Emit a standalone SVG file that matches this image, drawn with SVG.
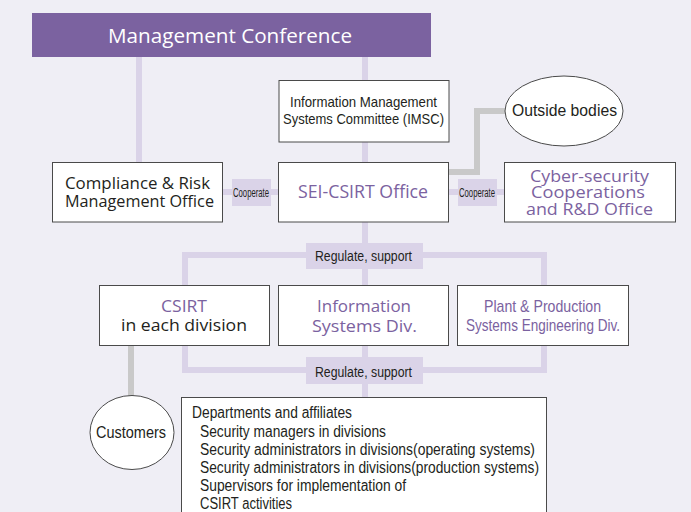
<svg xmlns="http://www.w3.org/2000/svg" width="691" height="512" viewBox="0 0 691 512">
<style>
.box{fill:#fff;stroke:#4a4a4a;stroke-width:1}
.ln{fill:none;stroke:#dad3e8;stroke-width:6}
.gl{fill:none;stroke:#c9c9c9;stroke-width:6}
.lab{fill:#dad3e8}
.t{font-family:"Open Sans","Noto Sans","Liberation Sans",sans-serif;fill:#231f20}
.c{font-family:"Liberation Sans","Noto Sans",sans-serif;fill:#231f20}
.p{fill:#7b62a0}
</style>
<rect width="691" height="512" fill="#efeef5"/>
<g id="connectors">
<path class="ln" d="M139,57V162"/>
<path class="ln" d="M365,57V80M365,142V162"/>
<path class="ln" d="M223,192H278M449,192H504"/>
<path class="gl" d="M449,172H477V111H505"/>
<path class="ln" d="M365,222V397"/>
<path class="ln" d="M185,285V255H544V285"/>
<path class="ln" d="M185,346V370H544V346"/>
<path class="gl" d="M131,346V396"/>
<rect class="lab" x="232" y="179" width="39" height="27"/>
<rect class="lab" x="458" y="179" width="39" height="27"/>
<rect class="lab" x="306" y="243" width="117" height="26"/>
<rect class="lab" x="306" y="357" width="117" height="27"/>
<text class="c" x="233" y="197" font-size="12" textLength="36" lengthAdjust="spacingAndGlyphs">Cooperate</text>
<text class="c" x="459" y="197" font-size="12" textLength="36" lengthAdjust="spacingAndGlyphs">Cooperate</text>
<text class="c" x="315" y="261" font-size="14" textLength="97" lengthAdjust="spacingAndGlyphs">Regulate, support</text>
<text class="c" x="315" y="377" font-size="14" textLength="97" lengthAdjust="spacingAndGlyphs">Regulate, support</text>
</g>
<g id="mgmt">
<rect x="32" y="13" width="399" height="44" fill="#7b62a0"/>
<text class="t" x="108" y="43" font-size="20" style="fill:#fff" textLength="244" lengthAdjust="spacingAndGlyphs">Management Conference</text>
</g>
<g id="imsc">
<rect class="box" x="279" y="80.5" width="170" height="61.5"/>
<text class="c" x="290" y="107" font-size="15" textLength="147" lengthAdjust="spacingAndGlyphs">Information Management</text>
<text class="c" x="283" y="124" font-size="15" textLength="161" lengthAdjust="spacingAndGlyphs">Systems Committee (IMSC)</text>
</g>
<g id="outside">
<ellipse cx="564" cy="111" rx="59" ry="35" fill="#fff" stroke="#4a4a4a"/>
<text class="c" x="512" y="116" font-size="17" textLength="105" lengthAdjust="spacingAndGlyphs">Outside bodies</text>
</g>
<g id="compliance">
<rect class="box" x="52.5" y="162.5" width="170" height="59.5"/>
<text class="t" x="65" y="189" font-size="16.5" textLength="145" lengthAdjust="spacingAndGlyphs">Compliance &amp; Risk</text>
<text class="t" x="65" y="207" font-size="16.5" textLength="149" lengthAdjust="spacingAndGlyphs">Management Office</text>
</g>
<g id="seicsirt">
<rect class="box" x="278.5" y="162.5" width="170" height="59.5"/>
<text class="t p" x="298" y="198" font-size="18" textLength="130" lengthAdjust="spacingAndGlyphs">SEI-CSIRT Office</text>
</g>
<g id="cyber">
<rect class="box" x="504.5" y="162.5" width="171" height="59.5"/>
<text class="t p" x="530" y="182" font-size="16.5" textLength="119" lengthAdjust="spacingAndGlyphs">Cyber-security</text>
<text class="t p" x="531" y="198" font-size="16.5" textLength="114" lengthAdjust="spacingAndGlyphs">Cooperations</text>
<text class="t p" x="526" y="215" font-size="16.5" textLength="127" lengthAdjust="spacingAndGlyphs">and R&amp;D Office</text>
</g>
<g id="csirt">
<rect class="box" x="99.5" y="285.5" width="170" height="60"/>
<text class="t p" x="161" y="312" font-size="17" textLength="46" lengthAdjust="spacingAndGlyphs">CSIRT</text>
<text class="t" x="121" y="331" font-size="17" textLength="126" lengthAdjust="spacingAndGlyphs">in each division</text>
</g>
<g id="infosys">
<rect class="box" x="278.5" y="285.5" width="170" height="60"/>
<text class="t p" x="317" y="312" font-size="17" textLength="94" lengthAdjust="spacingAndGlyphs">Information</text>
<text class="t p" x="312" y="332" font-size="17" textLength="105" lengthAdjust="spacingAndGlyphs">Systems Div.</text>
</g>
<g id="plant">
<rect class="box" x="457.5" y="285.5" width="171" height="60"/>
<text class="c p" x="484" y="312" font-size="17" textLength="117" lengthAdjust="spacingAndGlyphs">Plant &amp; Production</text>
<text class="c p" x="466" y="331" font-size="17" textLength="154" lengthAdjust="spacingAndGlyphs">Systems Engineering Div.</text>
</g>
<g id="customers">
<ellipse cx="132" cy="432.5" rx="42" ry="37" fill="#fff" stroke="#4a4a4a"/>
<text class="c" x="96" y="438" font-size="17" textLength="70" lengthAdjust="spacingAndGlyphs">Customers</text>
</g>
<g id="departments">
<rect class="box" x="181.5" y="397.5" width="365" height="130"/>
<text class="c" x="192" y="418" font-size="16" textLength="160" lengthAdjust="spacingAndGlyphs">Departments and affiliates</text>
<text class="c" x="200" y="437" font-size="16" textLength="186" lengthAdjust="spacingAndGlyphs">Security managers in divisions</text>
<text class="c" x="200" y="455" font-size="16" textLength="335" lengthAdjust="spacingAndGlyphs">Security administrators in divisions(operating systems)</text>
<text class="c" x="200" y="473" font-size="16" textLength="339" lengthAdjust="spacingAndGlyphs">Security administrators in divisions(production systems)</text>
<text class="c" x="200" y="491" font-size="16" textLength="206" lengthAdjust="spacingAndGlyphs">Supervisors for implementation of</text>
<text class="c" x="200" y="509" font-size="16" textLength="92" lengthAdjust="spacingAndGlyphs">CSIRT activities</text>
</g>
</svg>
